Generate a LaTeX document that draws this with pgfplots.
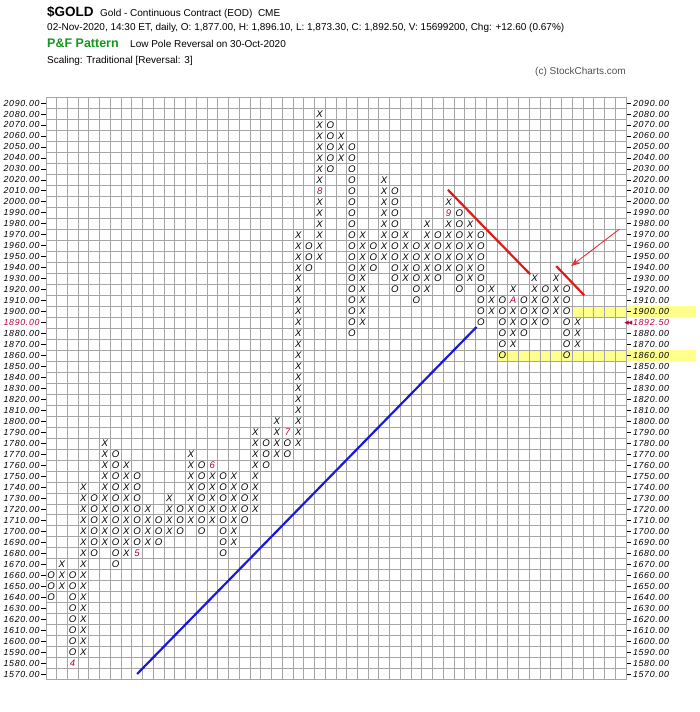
\documentclass[border=0pt]{standalone}
\usepackage{pgfplots}
\pgfplotsset{compat=1.18}
\usetikzlibrary{arrows.meta}
\usepackage{fontspec}
\setmainfont{Liberation Sans}
\newfontfamily\dejavu{DejaVu Sans}
\definecolor{gridgray}{RGB}{165,165,165}
\definecolor{boxred}{RGB}{170,10,50}
\definecolor{lblred}{RGB}{190,0,70}
\definecolor{pfgreen}{RGB}{20,150,30}
\definecolor{hiyellow}{RGB}{255,255,140}
\definecolor{trendred}{RGB}{225,25,25}
\definecolor{arrowred}{RGB}{235,50,50}
\definecolor{trendblue}{RGB}{25,25,220}
\definecolor{copygray}{RGB}{80,80,80}
\newcommand\lblfont{\fontsize{8.8}{9}\selectfont\itshape\addfontfeature{LetterSpace=8}}
\newcommand\markfont{\fontsize{9.6}{10}\selectfont\itshape}
\begin{document}
\begin{tikzpicture}
\path (0pt,0pt) rectangle (700pt,712pt);
\begin{axis}[
  at={(45.8pt,32.5pt)}, anchor=south west,
  scale only axis, width=580pt, height=582pt,
  xmin=-0.5, xmax=53.5, ymin=1565, ymax=2095,
  set layers, clip=false,
  axis line style={gridgray, line width=0.6pt},
  xtick={-0.5,0.5,...,53.5}, xticklabels={}, xmajorgrids,
  x tick style={draw=none},
  ytick={1570,1580,...,2090},
  minor ytick={1565,1575,...,2095},
  ymajorgrids=false, yminorgrids,
  minor grid style={gridgray, line width=0.6pt},
  major grid style={gridgray, line width=0.6pt},
  minor y tick style={draw=none},
  y tick style={black, line width=0.7pt},
  major tick length=5pt,
  tick align=outside,
  ytick pos=both,
  yticklabel pos=left,
  yticklabels={1570.00,1580.00,1590.00,1600.00,1610.00,1620.00,1630.00,1640.00,1650.00,1660.00,1670.00,1680.00,1690.00,1700.00,1710.00,1720.00,1730.00,1740.00,1750.00,1760.00,1770.00,1780.00,1790.00,1800.00,1810.00,1820.00,1830.00,1840.00,1850.00,1860.00,1870.00,1880.00,{\color{lblred}1890.00},1900.00,1910.00,1920.00,1930.00,1940.00,1950.00,1960.00,1970.00,1980.00,1990.00,2000.00,2010.00,2020.00,2030.00,2040.00,2050.00,2060.00,2070.00,2080.00,2090.00},
  yticklabel style={font=\lblfont, inner sep=1pt},
]
% yellow highlight bands
\addplot[fill=hiyellow, draw=none, on layer=axis background] coordinates {(48.5,1895)(60,1895)(60,1905)(48.5,1905)};
\addplot[fill=hiyellow, draw=none, on layer=axis background] coordinates {(41.5,1855)(60,1855)(60,1865)(41.5,1865)};
% trend lines
\addplot[trendblue, line width=2.2pt] coordinates {(8,1570)(39.6,1886)};
\addplot[trendred, line width=2.2pt] coordinates {(36.93,2011)(44.6,1934)};
\addplot[trendred, line width=2.2pt] coordinates {(47.02,1941.5)(49.62,1915)};
\addplot[arrowred, line width=0.9pt, -{Stealth[length=9pt,width=7pt]}] coordinates {(52.9,1975)(48.4,1941.5)};
% X columns
\addplot[only marks, mark=text, text mark={X}, text mark as node=true, text mark style={font=\markfont, inner sep=0pt, anchor=center}] coordinates {
(1,1650)(1,1660)(1,1670)
(3,1590)(3,1600)(3,1610)(3,1620)(3,1630)(3,1640)(3,1650)(3,1660)(3,1670)(3,1680)(3,1690)(3,1700)(3,1710)(3,1720)(3,1730)(3,1740)
(5,1690)(5,1700)(5,1710)(5,1720)(5,1730)(5,1740)(5,1750)(5,1760)(5,1770)(5,1780)
(7,1680)(7,1690)(7,1700)(7,1710)(7,1720)(7,1730)(7,1740)(7,1750)(7,1760)
(9,1690)(9,1700)(9,1710)(9,1720)
(11,1700)(11,1710)(11,1720)(11,1730)
(13,1710)(13,1720)(13,1730)(13,1740)(13,1750)(13,1760)(13,1770)
(15,1710)(15,1720)(15,1730)(15,1740)(15,1750)
(17,1690)(17,1700)(17,1710)(17,1720)(17,1730)(17,1740)(17,1750)
(19,1720)(19,1730)(19,1740)(19,1750)(19,1760)(19,1770)(19,1780)(19,1790)
(21,1770)(21,1780)(21,1790)(21,1800)
(23,1780)(23,1790)(23,1800)(23,1810)(23,1820)(23,1830)(23,1840)(23,1850)(23,1860)(23,1870)(23,1880)(23,1890)(23,1900)(23,1910)(23,1920)(23,1930)(23,1940)(23,1950)(23,1960)(23,1970)
(25,1950)(25,1960)(25,1970)(25,1980)(25,1990)(25,2000)(25,2020)(25,2030)(25,2040)(25,2050)(25,2060)(25,2070)(25,2080)
(27,2040)(27,2050)(27,2060)
(29,1890)(29,1900)(29,1910)(29,1920)(29,1930)(29,1940)(29,1950)(29,1960)(29,1970)
(31,1950)(31,1960)(31,1970)(31,1980)(31,1990)(31,2000)(31,2010)(31,2020)
(33,1930)(33,1940)(33,1950)(33,1960)(33,1970)
(35,1920)(35,1930)(35,1940)(35,1950)(35,1960)(35,1970)(35,1980)
(37,1940)(37,1950)(37,1960)(37,1970)(37,1980)(37,2000)
(39,1930)(39,1940)(39,1950)(39,1960)(39,1970)(39,1980)
(41,1900)(41,1910)(41,1920)
(43,1870)(43,1880)(43,1890)(43,1900)(43,1920)
(45,1890)(45,1900)(45,1910)(45,1920)(45,1930)
(47,1900)(47,1910)(47,1920)(47,1930)
(49,1870)(49,1880)(49,1890)
};
% O columns
\addplot[only marks, mark=text, text mark={O}, text mark as node=true, text mark style={font=\markfont, inner sep=0pt, anchor=center}] coordinates {
(0,1640)(0,1650)(0,1660)
(2,1590)(2,1600)(2,1610)(2,1620)(2,1630)(2,1640)(2,1650)(2,1660)
(4,1680)(4,1690)(4,1700)(4,1710)(4,1720)(4,1730)
(6,1670)(6,1680)(6,1690)(6,1700)(6,1710)(6,1720)(6,1730)(6,1740)(6,1750)(6,1760)(6,1770)
(8,1690)(8,1700)(8,1710)(8,1720)(8,1730)(8,1740)(8,1750)
(10,1690)(10,1700)(10,1710)
(12,1700)(12,1710)(12,1720)
(14,1700)(14,1710)(14,1720)(14,1730)(14,1740)(14,1750)(14,1760)
(16,1680)(16,1690)(16,1700)(16,1710)(16,1720)(16,1730)(16,1740)(16,1750)
(18,1710)(18,1720)(18,1730)(18,1740)
(20,1760)(20,1770)(20,1780)
(22,1770)(22,1780)
(24,1940)(24,1950)(24,1960)
(26,2030)(26,2040)(26,2050)(26,2060)(26,2070)
(28,1880)(28,1890)(28,1900)(28,1910)(28,1920)(28,1930)(28,1940)(28,1950)(28,1960)(28,1970)(28,1980)(28,1990)(28,2000)(28,2010)(28,2020)(28,2030)(28,2040)(28,2050)
(30,1940)(30,1950)(30,1960)
(32,1920)(32,1930)(32,1940)(32,1950)(32,1960)(32,1970)(32,1980)(32,1990)(32,2000)(32,2010)
(34,1910)(34,1920)(34,1930)(34,1940)(34,1950)(34,1960)
(36,1930)(36,1940)(36,1950)(36,1960)(36,1970)
(38,1920)(38,1930)(38,1940)(38,1950)(38,1960)(38,1970)(38,1980)(38,1990)
(40,1890)(40,1900)(40,1910)(40,1920)(40,1930)(40,1940)(40,1950)(40,1960)(40,1970)
(42,1860)(42,1870)(42,1880)(42,1890)(42,1900)(42,1910)
(44,1880)(44,1890)(44,1900)(44,1910)
(46,1890)(46,1900)(46,1910)(46,1920)
(48,1860)(48,1870)(48,1880)(48,1890)(48,1900)(48,1910)(48,1920)
};
% month markers
\addplot[draw=none, mark=none, nodes near coords, point meta=explicit symbolic, nodes near coords align={center},
  every node near coord/.append style={font=\markfont, text=boxred, inner sep=0pt}] coordinates {
(2,1580)[4] (8,1680)[5] (15,1760)[6] (22,1790)[7] (25,2010)[8] (37,1990)[9] (43,1910)[A]
};
\end{axis}
\begin{axis}[
  at={(45.8pt,32.5pt)}, anchor=south west,
  scale only axis, width=580pt, height=582pt,
  xmin=-0.5, xmax=53.5, ymin=1565, ymax=2095,
  axis line style={draw=none},
  xtick=\empty,
  ytick={1570,1580,...,2090},
  y tick style={draw=none},
  major tick length=5pt,
  tick align=outside,
  ytick pos=right,
  yticklabel pos=right,
  yticklabels={1570.00,1580.00,1590.00,1600.00,1610.00,1620.00,1630.00,1640.00,1650.00,1660.00,1670.00,1680.00,1690.00,1700.00,1710.00,1720.00,1730.00,1740.00,1750.00,1760.00,1770.00,1780.00,1790.00,1800.00,1810.00,1820.00,1830.00,1840.00,1850.00,1860.00,1870.00,1880.00,{\color{lblred}\llap{\dejavu\fontsize{9}{9}\selectfont ◂\kern-1pt◂\kern0.5pt}1892.50},1900.00,1910.00,1920.00,1930.00,1940.00,1950.00,1960.00,1970.00,1980.00,1990.00,2000.00,2010.00,2020.00,2030.00,2040.00,2050.00,2060.00,2070.00,2080.00,2090.00},
  yticklabel style={font=\lblfont, inner sep=2pt},
]
\addplot[draw=none, mark=none] coordinates {(0,1600)(1,1610)};
\end{axis}
% header
\node[anchor=base west, inner sep=0pt] at (47pt,695.3pt) {\fontsize{13.5}{14}\selectfont\bfseries \$GOLD};
\node[anchor=base west, inner sep=0pt] at (100pt,695.3pt) {\fontsize{10}{11}\selectfont Gold - Continuous Contract (EOD)\ \ CME};
\node[anchor=base west, inner sep=0pt] at (47pt,681.5pt) {\fontsize{10}{11}\selectfont 02-Nov-2020, 14:30 ET, daily, O: 1,877.00, H: 1,896.10, L: 1,873.30, C: 1,892.50, V: 15699200, Chg: +12.60 (0.67\%)};
\node[anchor=base west, inner sep=0pt] at (47pt,664.3pt) {\fontsize{12.5}{13}\selectfont\bfseries\color{pfgreen} P\&F Pattern};
\node[anchor=base west, inner sep=0pt] at (130pt,664.3pt) {\fontsize{10}{11}\selectfont Low Pole Reversal on 30-Oct-2020};
\node[anchor=base west, inner sep=0pt] at (47pt,648.5pt) {\fontsize{10}{11}\selectfont Scaling: Traditional [Reversal: 3]};
\node[anchor=base west, inner sep=0pt] at (535pt,637pt) {\fontsize{10}{11}\selectfont\color{copygray} (c) StockCharts.com};
\end{tikzpicture}
\end{document}
